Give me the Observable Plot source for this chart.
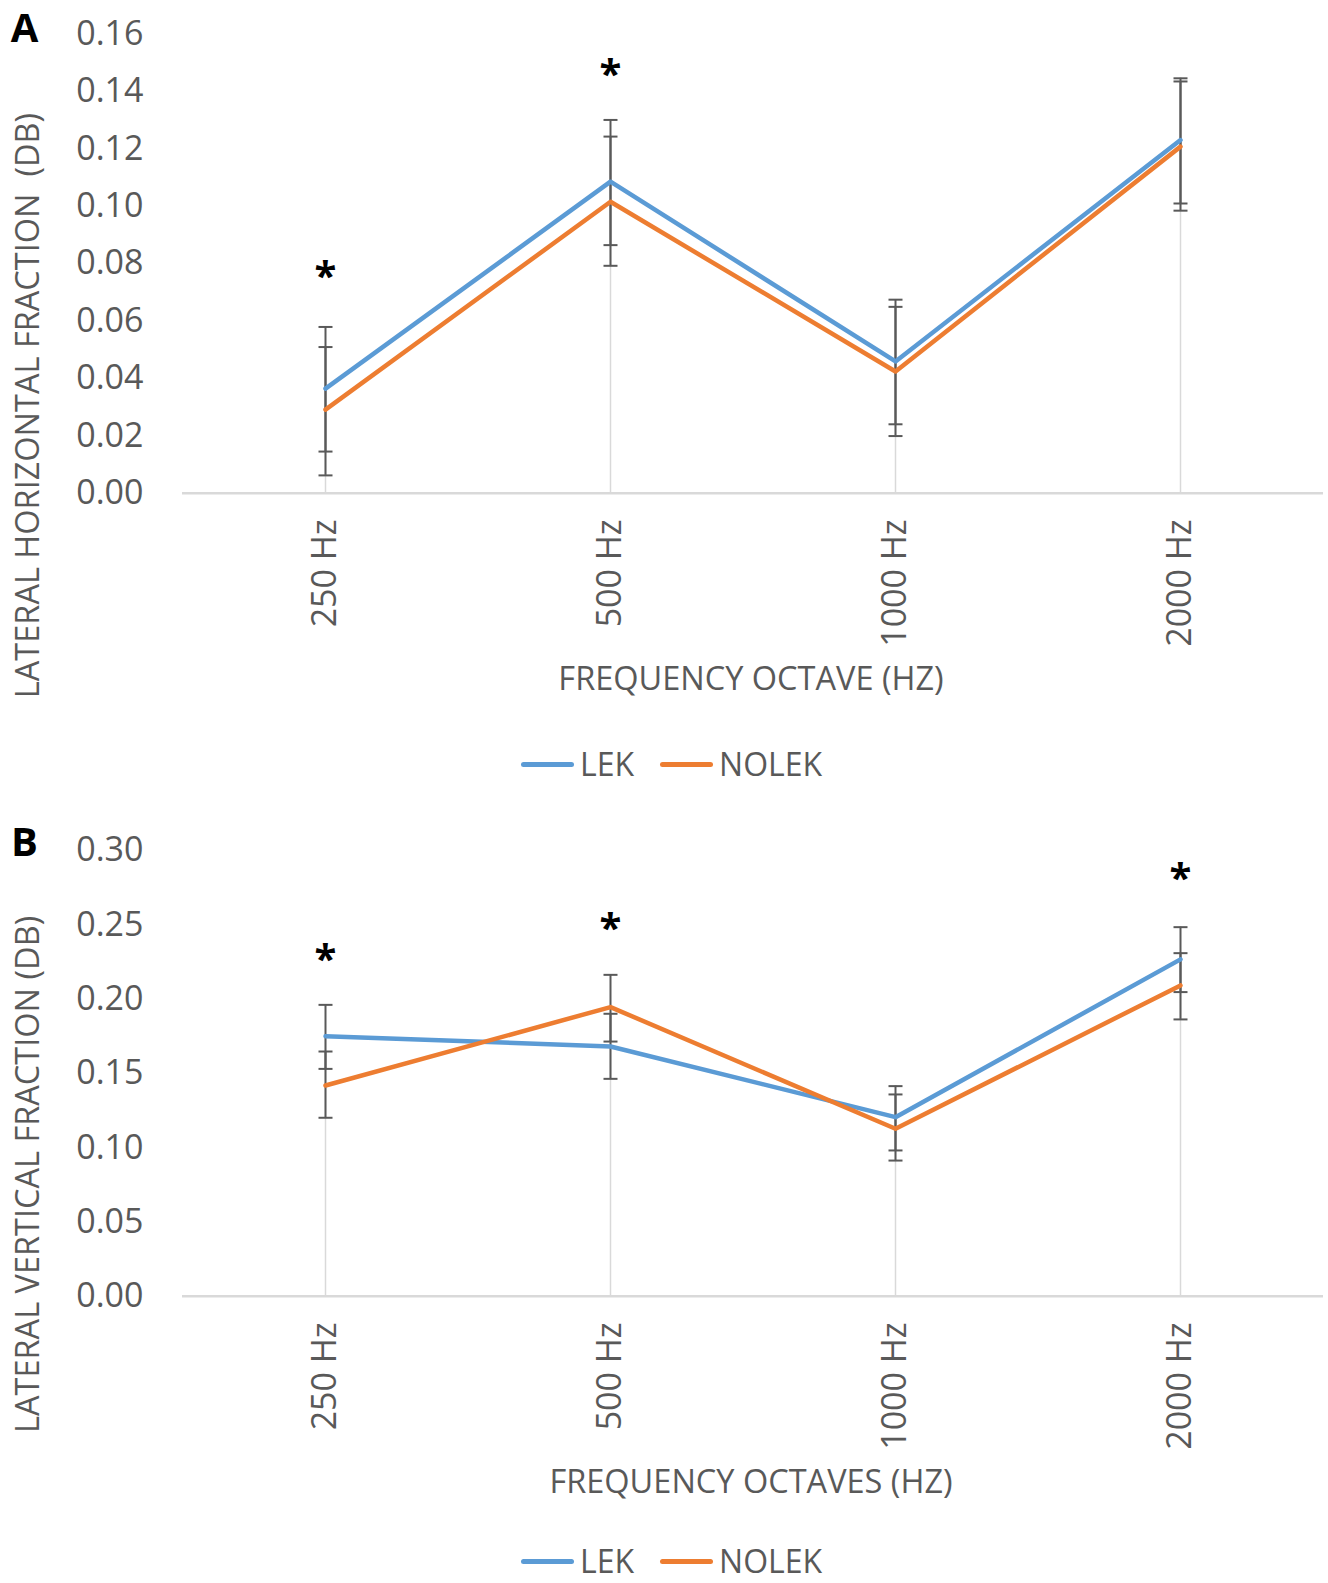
<!DOCTYPE html>
<html>
<head>
<meta charset="utf-8">
<script src="https://cdn.jsdelivr.net/npm/d3@7"></script>
<script src="https://cdn.jsdelivr.net/npm/@observablehq/plot@0.6"></script>
<style>
  html, body { margin: 0; padding: 0; background: #fff; }
  #root { position: relative; width: 1328px; height: 1583px; overflow: hidden; font-family: "Open Sans", sans-serif; }
  .panel { position: absolute; left: 0; }
  .legend { position: absolute; display: flex; align-items: center; font-size: 32px; line-height: 1; color: #595959; font-family: "Open Sans", sans-serif; }
  .legend .sw { width: 53px; height: 5px; border-radius: 3px; margin-right: 6px; }
  .legend .item { display: flex; align-items: center; margin-right: 26px; }
</style>
</head>
<body>
<div id="root"></div>
<script>
// ---------- data ----------
const categories = ["250 Hz", "500 Hz", "1000 Hz", "2000 Hz"];
const seriesNames = ["LEK", "NOLEK"];
const seriesColors = ["#5b9bd5", "#ed7d31"];

// Panel A: lateral horizontal fraction
const aTicks = [0, 0.02, 0.04, 0.06, 0.08, 0.10, 0.12, 0.14, 0.16];
const aLek     = [0.0364, 0.1085, 0.0459, 0.1230];
const aLekLo   = [0.0145, 0.0864, 0.0240, 0.1009];
const aLekHi   = [0.0579, 0.1300, 0.0674, 0.1445];
const aNolek   = [0.0291, 0.1015, 0.0424, 0.1207];
const aNolekLo = [0.0062, 0.0792, 0.0199, 0.0984];
const aNolekHi = [0.0509, 0.1242, 0.0649, 0.1434];
const aStarY   = [0.0770, 0.1472, null, null];   // significance markers (*)

// Panel B: lateral vertical fraction
const bTicks = [0, 0.05, 0.10, 0.15, 0.20, 0.25, 0.30];
const bLek     = [0.1750, 0.1681, 0.1205, 0.2267];
const bLekLo   = [0.1530, 0.1463, 0.0981, 0.2047];
const bLekHi   = [0.1961, 0.1901, 0.1414, 0.2484];
const bNolek   = [0.1418, 0.1946, 0.1127, 0.2092];
const bNolekLo = [0.1201, 0.1714, 0.0913, 0.1863];
const bNolekHi = [0.1647, 0.2163, 0.1358, 0.2309];
const bStarY   = [0.2293, 0.2502, null, 0.2838];  // significance markers (*)

// horizontal cap symbol for error bars
const capSymbol = {draw(ctx) { ctx.moveTo(-7, 0); ctx.lineTo(7, 0); }};

// ---------- chart ----------
function makePanel(cfg) {
  const rows = categories.flatMap((c, i) => [
    {cat: c, series: seriesNames[0], v: cfg.lek[i], lo: cfg.lekLo[i], hi: cfg.lekHi[i]},
    {cat: c, series: seriesNames[1], v: cfg.nolek[i], lo: cfg.nolekLo[i], hi: cfg.nolekHi[i]}
  ]);
  const drops = categories.map((c, i) => ({cat: c, top: Math.max(cfg.lek[i], cfg.nolek[i])}));
  const stars = categories
    .map((c, i) => ({cat: c, y: cfg.starY[i]}))
    .filter(d => d.y != null);

  return Plot.plot({
    width: 1328,
    height: 730,
    marginLeft: 182,
    marginRight: 5,
    marginTop: cfg.marginTop,
    marginBottom: cfg.marginBottom,
    style: {fontFamily: "Open Sans", fontSize: "32px", color: "#595959", background: "white", overflow: "visible"},
    x: {type: "point", domain: categories, padding: 0.5, axis: null},
    y: {domain: [0, cfg.ticks[cfg.ticks.length - 1]]},
    color: {domain: seriesNames, range: seriesColors},
    marks: [
      Plot.ruleX(drops, {x: "cat", y1: 0, y2: "top", stroke: "#d9d9d9", strokeWidth: 1.5}),
      Plot.ruleY([0], {stroke: "#d9d9d9", strokeWidth: 2.5}),
      Plot.axisY(cfg.ticks, {tickSize: 0, tickPadding: 39, tickFormat: d => d.toFixed(2), fontSize: 34, label: null}),
      Plot.ruleX(rows, {x: "cat", y1: "lo", y2: "hi", stroke: "#595959", strokeWidth: 2}),
      Plot.dot(rows, {x: "cat", y: "lo", symbol: capSymbol, r: 7, stroke: "#595959", strokeWidth: 2, fill: "none"}),
      Plot.dot(rows, {x: "cat", y: "hi", symbol: capSymbol, r: 7, stroke: "#595959", strokeWidth: 2, fill: "none"}),
      Plot.line(rows, {x: "cat", y: "v", z: "series", stroke: "series", strokeWidth: 4.5}),
      Plot.text(stars, {x: "cat", y: "y", text: () => "*", dy: 5, fontSize: 40, fontWeight: "bold", fill: "#000"}),
      Plot.text(categories, {x: d => d, text: d => d, frameAnchor: "bottom", rotate: -90, textAnchor: "end", lineAnchor: "middle", dy: 26, fontSize: 34, fill: "#595959"}),
      Plot.text([cfg.xTitle], {text: d => d, frameAnchor: "bottom", lineAnchor: "middle", textAnchor: "middle", dy: 186, dx: -2, fontSize: 32.5, fill: "#595959"}),
      Plot.text([cfg.yTitle], {text: d => d, frameAnchor: "left", rotate: -90, textAnchor: "middle", lineAnchor: "middle", dx: -154, dy: cfg.yTitleDy, fontSize: 32.5, fill: "#595959"}),
      Plot.text([cfg.letter], {text: d => d, frameAnchor: "top-left", textAnchor: "middle", lineAnchor: "middle", dx: -158, dy: cfg.letterDy, fontSize: 40, fontWeight: "bold", fill: "#000"})
    ]
  });
}

function makeLegend(top) {
  const div = document.createElement("div");
  div.className = "legend";
  div.style.left = "521px";
  div.style.top = (top - 16) + "px";
  seriesNames.forEach((name, i) => {
    const item = document.createElement("div");
    item.className = "item";
    const sw = document.createElement("span");
    sw.className = "sw";
    sw.style.background = seriesColors[i];
    const t = document.createElement("span");
    t.textContent = name;
    item.appendChild(sw);
    item.appendChild(t);
    div.appendChild(item);
  });
  return div;
}

const root = document.getElementById("root");

const chartA = makePanel({
  lek: aLek, lekLo: aLekLo, lekHi: aLekHi,
  nolek: aNolek, nolekLo: aNolekLo, nolekHi: aNolekHi,
  starY: aStarY, ticks: aTicks,
  yTitle: "LATERAL HORIZONTAL FRACTION  (DB)",
  xTitle: "FREQUENCY OCTAVE (HZ)",
  letter: "A",
  marginTop: 33.3, marginBottom: 237.3, yTitleDy: 142, letterDy: -5
});
chartA.classList.add("panel");
chartA.style.top = "0px";
root.appendChild(chartA);
root.appendChild(makeLegend(764));

const chartB = makePanel({
  lek: bLek, lekLo: bLekLo, lekHi: bLekHi,
  nolek: bNolek, nolekLo: bNolekLo, nolekHi: bNolekHi,
  starY: bStarY, ticks: bTicks,
  yTitle: "LATERAL VERTICAL FRACTION (DB)",
  xTitle: "FREQUENCY OCTAVES (HZ)",
  letter: "B",
  marginTop: 50, marginBottom: 234.3, yTitleDy: 101, letterDy: -7
});
chartB.classList.add("panel");
chartB.style.top = "800px";
root.appendChild(chartB);
root.appendChild(makeLegend(1561));
</script>
</body>
</html>
